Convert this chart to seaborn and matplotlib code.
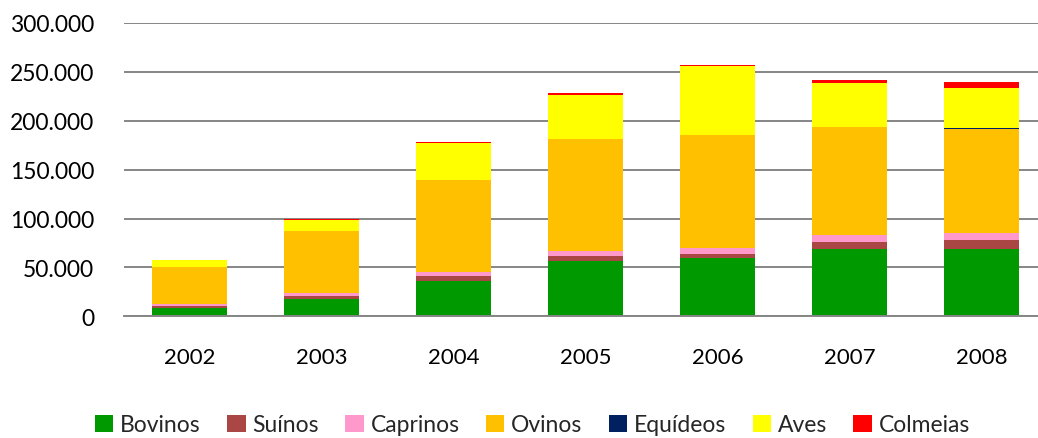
import numpy as np
import matplotlib
matplotlib.use("Agg")
import matplotlib.pyplot as plt
from matplotlib.patches import Patch
from matplotlib.ticker import FuncFormatter
import seaborn as sns

# Data
years = ["2002", "2003", "2004", "2005", "2006", "2007", "2008"]
bovinos = [8200, 18000, 36300, 56100, 59200, 68400, 69000]
suinos = [2600, 3000, 5100, 5700, 4700, 7700, 9200]
caprinos = [1800, 2800, 3800, 5500, 6100, 6600, 6800]
ovinos = [38000, 63200, 94200, 113900, 115900, 110800, 106800]
equideos = [50, 50, 50, 50, 50, 50, 700]
aves = [6800, 11700, 38000, 45600, 69700, 44600, 40800]
colmeias = [400, 500, 700, 1500, 1500, 3700, 6500]

series_names = ["Bovinos", "Suínos", "Caprinos", "Ovinos", "Equídeos", "Aves", "Colmeias"]
series_values = [bovinos, suinos, caprinos, ovinos, equideos, aves, colmeias]
colors = ["#009900", "#AA4643", "#FF99CC", "#FFC000", "#002060", "#FFFF00", "#FF0000"]

sns.set_theme(style="white")
plt.rcParams["font.family"] = ["Lato", "DejaVu Sans"]

fig = plt.figure(figsize=(10.38, 4.39), dpi=100)
ax = fig.add_axes([123.5 / 1038, 121.7 / 439, 924 / 1038, 293.3 / 439])

cum = np.cumsum(np.array(series_values), axis=0)

# draw cumulative totals from top layer down so each layer overplots the next
for i in range(len(series_names) - 1, -1, -1):
    sns.barplot(x=years, y=cum[i], color=colors[i], saturation=1,
                width=0.57, ax=ax, edgecolor="none", zorder=3)

ax.set_xlim(-0.5, 6.5)
ax.set_ylim(0, 300000)
ax.set_yticks(np.arange(0, 300001, 50000))
ax.yaxis.set_major_formatter(FuncFormatter(lambda v, p: f"{int(v):,}".replace(",", ".")))
ax.grid(axis="y", color="#868686", linewidth=1.4, zorder=0)
ax.set_axisbelow(True)
for s in ["top", "right", "left"]:
    ax.spines[s].set_visible(False)
ax.spines["bottom"].set_color("#868686")
ax.spines["bottom"].set_linewidth(1.4)
ax.spines["bottom"].set_zorder(4)
ax.set_xlabel("")
ax.set_ylabel("")
ax.tick_params(axis="y", labelsize=16.5, pad=21, length=0, colors="black")
ax.tick_params(axis="x", labelsize=16, pad=22, length=0, colors="black")

handles = [Patch(facecolor=c, edgecolor="none") for c in colors]
fig.legend(handles, series_names, loc="center", bbox_to_anchor=(0.513, 0.03),
           ncol=7, frameon=False, fontsize=16.5, handlelength=0.8, handleheight=0.8,
           handletextpad=0.3, columnspacing=1.15)

fig.savefig("out.png", dpi=100)
